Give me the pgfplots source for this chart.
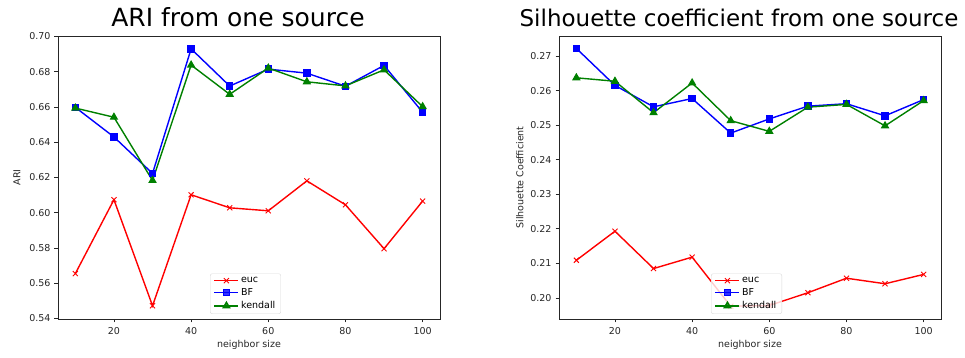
\documentclass[border=0pt]{standalone}
\usepackage{pgfplots}
\pgfplotsset{compat=1.18}
\usepackage{fontspec}
\setmainfont{DejaVu Sans}
\definecolor{mplgreen}{rgb}{0,0.5,0}
\pgfplotsset{
  myaxis/.style={
    scale only axis, width=382pt, height=283pt, anchor=south west,
    xmin=5.5, xmax=104.5,
    xtick={20,40,60,80,100},
    axis line style={black!85, line width=0.8pt},
    tick style={black!85, line width=0.8pt},
    tick align=outside, major tick length=3.5pt,
    xtick pos=bottom, ytick pos=left,
    tick label style={font=\fontsize{9.5}{11}\selectfont, text=black!85},
    xticklabel style={yshift=-1pt},
    yticklabel style={xshift=-0.5pt},
    label style={font=\fontsize{9.5}{11}\selectfont, text=black!85},
    /pgf/number format/assume math mode=true,
    yticklabel style={/pgf/number format/fixed, /pgf/number format/fixed zerofill, /pgf/number format/precision=2},
    scaled y ticks=false,
    xlabel={neighbor size},
    xlabel style={yshift=1pt},
    title style={at={(0.5,1)}, anchor=base, yshift=3pt, xshift=-11pt},
    legend style={at={(0.398,0.018)}, anchor=south west, draw=black!15, rounded corners=2pt, fill=white, fill opacity=0.8, text opacity=1, font=\fontsize{9.5}{11}\selectfont, row sep=3.5pt, inner xsep=3.5pt, inner ysep=3pt, nodes={inner ysep=0.5pt}},
    legend cell align=left,
    legend image code/.code={\draw[mark repeat=2, mark phase=2, #1] plot coordinates {(0pt,0pt) (12pt,0pt) (24pt,0pt)};},
    every axis plot/.append style={line width=1.4pt},
  },
  euc/.style={red, mark=x, mark size=3.6pt, mark options={line width=0.9pt}},
  bf/.style={blue, mark=square*, mark size=3pt},
  ken/.style={mplgreen, mark=triangle*, mark size=3.6pt},
}
\begin{document}
\begin{tikzpicture}
\path[use as bounding box] (0pt,0pt) rectangle (965pt,358pt);
\begin{axis}[myaxis, at={(58pt,39pt)}, ymin=0.5397, ymax=0.7003,
  ytick={0.54,0.56,0.58,0.60,0.62,0.64,0.66,0.68,0.70},
  ylabel={ARI}, ylabel style={yshift=2pt}, title={ARI from one source},
  title style={font=\fontsize{25}{28}\selectfont}]
\addplot[euc] coordinates {(10,0.5655) (20,0.6074) (30,0.5472) (40,0.6102) (50,0.6028) (60,0.6011) (70,0.6181) (80,0.6045) (90,0.5796) (100,0.6066)};
\addplot[bf] coordinates {(10,0.6598) (20,0.6430) (30,0.6223) (40,0.6930) (50,0.6719) (60,0.6815) (70,0.6792) (80,0.6718) (90,0.6836) (100,0.6570)};
\addplot[ken] coordinates {(10,0.6594) (20,0.6542) (30,0.6183) (40,0.6838) (50,0.6672) (60,0.6821) (70,0.6743) (80,0.6720) (90,0.6811) (100,0.6602)};
\legend{euc, BF, kendall}
\end{axis}
\begin{axis}[myaxis, at={(559pt,39pt)}, ymin=0.1939, ymax=0.2758,
  ytick={0.20,0.21,0.22,0.23,0.24,0.25,0.26,0.27},
  ylabel={Silhouette Coefficient}, title={Silhouette coefficient from one source},
  title style={font=\fontsize{23}{26}\selectfont}]
\addplot[euc] coordinates {(10,0.2109) (20,0.2193) (30,0.2085) (40,0.2118) (50,0.1976) (60,0.1978) (70,0.2015) (80,0.2057) (90,0.2041) (100,0.2068)};
\addplot[bf] coordinates {(10,0.2722) (20,0.2615) (30,0.2553) (40,0.2577) (50,0.2477) (60,0.2518) (70,0.2555) (80,0.2562) (90,0.2527) (100,0.2574)};
\addplot[ken] coordinates {(10,0.2637) (20,0.2627) (30,0.2536) (40,0.2622) (50,0.2513) (60,0.2482) (70,0.2552) (80,0.2560) (90,0.2498) (100,0.2571)};
\legend{euc, BF, kendall}
\end{axis}
\end{tikzpicture}
\end{document}
